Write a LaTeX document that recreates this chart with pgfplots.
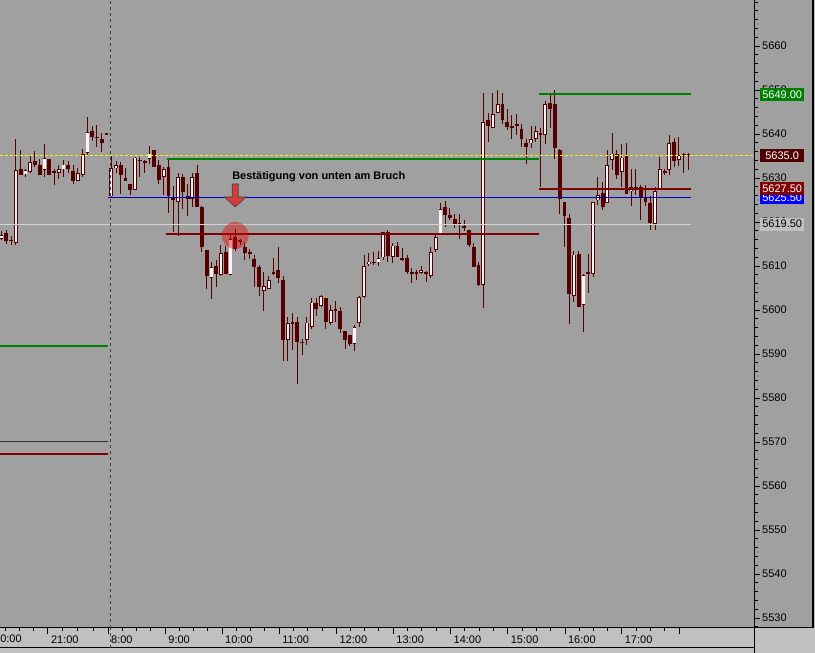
\documentclass[border=0pt]{standalone}
\usepackage{pgfplots}
\pgfplotsset{compat=1.18}
\usepackage{pgfplotstable}
\usepackage{fontspec}
\setmainfont{Liberation Sans}

\definecolor{chartbg}{RGB}{160,160,160}
\definecolor{stripbg}{RGB}{192,192,192}
\definecolor{candle}{RGB}{85,0,0}
\definecolor{candlewhite}{RGB}{255,242,242}
\definecolor{lvlgreen}{RGB}{0,128,0}
\definecolor{lvlred}{RGB}{128,0,0}
\definecolor{lvlblue}{RGB}{0,0,205}
\definecolor{lvlgrey}{RGB}{212,212,212}
\definecolor{lastbox}{RGB}{80,0,0}
\definecolor{arrowred}{RGB}{215,60,60}

% n = 5-min bar (0 = 8:00 bar, negatives = evening before)
\pgfplotstableread{
n O H L C
-23 5616.2 5618.0 5615.9 5617.2
-22 5617.6 5618.3 5615.2 5615.8
-21 5616.1 5617.0 5614.8 5615.8
-20 5615.3 5638.9 5614.8 5631.8
-19 5632.1 5636.4 5630.7 5630.8
-18 5630.8 5632.0 5630.3 5631.8
-17 5631.3 5635.1 5631.3 5633.7
-16 5633.9 5636.2 5632.7 5633.1
-15 5633.1 5634.5 5630.7 5630.8
-14 5632.0 5637.9 5630.3 5634.7
-13 5634.3 5634.3 5630.7 5630.8
-12 5631.8 5632.2 5628.6 5631.2
-11 5631.2 5633.0 5629.9 5632.2
-10 5632.0 5634.1 5630.3 5633.1
-9 5633.1 5633.9 5631.2 5632.0
-8 5631.8 5633.0 5628.6 5629.4
-7 5629.4 5632.2 5629.4 5631.1
-6 5630.8 5636.5 5630.3 5635.6
-5 5635.8 5643.9 5635.2 5640.6
-4 5640.6 5641.7 5638.3 5639.4
-3 5639.4 5642.1 5637.1 5639.1
-2 5638.8 5640.2 5635.8 5637.9
-1 5640.3 5640.3 5640.1 5640.1
0 5625.8 5635.2 5625.5 5632.2
1 5632.3 5633.9 5631.1 5633.1
2 5633.1 5633.7 5626.5 5630.8
3 5630.2 5632.2 5629.4 5629.4
4 5628.6 5628.6 5626.1 5627.3
5 5627.4 5634.7 5627.3 5634.7
6 5634.3 5634.8 5630.3 5633.9
7 5633.9 5634.3 5631.2 5633.7
8 5634.3 5637.3 5633.3 5635.6
9 5636.4 5636.4 5632.6 5632.6
10 5633.1 5634.1 5628.6 5629.7
11 5630.3 5632.6 5626.1 5632.2
12 5632.7 5634.1 5622.0 5626.1
13 5625.6 5628.2 5617.8 5625.3
14 5624.8 5631.1 5616.8 5630.3
15 5630.3 5631.1 5623.1 5626.9
16 5626.1 5628.8 5621.4 5625.3
17 5625.2 5631.2 5623.5 5630.3
18 5631.2 5633.0 5623.6 5623.6
19 5623.6 5623.6 5613.3 5614.4
20 5613.6 5613.6 5604.9 5607.8
21 5607.4 5611.0 5602.4 5609.8
22 5610.2 5611.4 5605.3 5608.2
23 5608.2 5614.8 5607.8 5613.1
24 5613.2 5614.6 5608.2 5608.3
25 5608.0 5617.1 5608.0 5616.1
26 5616.7 5618.6 5613.6 5614.0
27 5615.9 5616.1 5614.8 5615.5
28 5614.4 5615.5 5611.4 5612.9
29 5613.1 5614.0 5611.8 5612.9
30 5611.8 5612.5 5605.3 5609.8
31 5609.8 5610.2 5603.2 5605.3
32 5604.4 5608.7 5599.8 5605.6
33 5604.8 5607.7 5604.8 5606.8
34 5608.6 5611.8 5608.0 5608.5
35 5609.3 5614.3 5606.2 5607.4
36 5606.8 5607.7 5588.3 5593.2
37 5593.2 5598.3 5588.3 5597.2
38 5597.2 5599.4 5590.8 5597.0
39 5597.2 5598.6 5583.2 5592.8
40 5592.7 5593.6 5589.8 5592.6
41 5593.3 5598.5 5592.1 5597.2
42 5596.2 5602.8 5595.8 5601.8
43 5601.8 5602.7 5598.6 5600.4
44 5600.9 5603.6 5600.8 5603.2
45 5602.7 5602.7 5595.8 5597.3
46 5597.3 5601.1 5596.6 5600.2
47 5600.3 5602.1 5597.3 5600.1
48 5599.8 5600.8 5594.8 5595.8
49 5595.2 5595.2 5591.3 5593.3
50 5594.3 5594.3 5591.9 5592.4
51 5592.4 5596.6 5590.8 5596.1
52 5597.0 5603.2 5596.2 5603.0
53 5603.2 5612.5 5602.9 5610.1
54 5610.5 5612.9 5610.0 5611.1
55 5611.1 5613.3 5610.2 5610.8
56 5610.8 5613.4 5610.2 5611.8
57 5612.0 5617.7 5611.4 5617.7
58 5617.7 5618.2 5611.0 5612.3
59 5612.3 5615.3 5610.8 5614.8
60 5614.8 5615.5 5612.3 5612.3
61 5611.8 5614.3 5611.2 5611.7
62 5611.8 5612.7 5608.3 5608.7
63 5608.6 5609.7 5606.2 5608.5
64 5608.6 5609.3 5607.0 5608.5
65 5608.6 5610.2 5608.2 5609.3
66 5608.6 5608.7 5606.2 5608.5
67 5607.8 5614.3 5607.4 5613.2
68 5613.6 5617.7 5613.3 5616.7
69 5617.1 5624.3 5617.0 5623.1
70 5623.6 5624.8 5618.9 5621.8
71 5621.8 5623.1 5620.5 5621.1
72 5620.7 5622.0 5618.8 5619.7
73 5619.8 5621.8 5616.1 5619.6
74 5619.3 5620.5 5618.2 5618.7
75 5618.2 5618.3 5614.4 5614.8
76 5614.3 5615.3 5609.8 5609.8
77 5610.2 5611.0 5605.7 5605.7
78 5605.8 5649.3 5600.4 5642.7
79 5643.2 5644.8 5638.3 5641.9
80 5641.5 5649.3 5641.5 5644.7
81 5644.9 5650.2 5644.9 5646.8
82 5646.8 5649.3 5642.4 5643.3
83 5642.7 5645.6 5640.8 5641.5
84 5641.7 5644.3 5638.9 5641.6
85 5642.2 5644.7 5639.8 5642.1
86 5641.3 5642.3 5637.0 5638.9
87 5638.1 5638.9 5633.3 5637.0
88 5637.9 5641.8 5637.0 5638.8
89 5639.0 5641.8 5638.3 5640.7
90 5640.2 5641.3 5628.0 5640.1
91 5639.9 5647.7 5637.9 5646.8
92 5647.2 5649.3 5641.5 5645.8
93 5646.8 5650.2 5634.5 5637.0
94 5636.4 5636.8 5622.0 5625.4
95 5624.6 5624.6 5614.4 5621.4
96 5621.1 5622.0 5597.0 5603.8
97 5603.3 5613.6 5601.9 5612.7
98 5612.7 5613.6 5600.8 5600.8
99 5601.3 5608.1 5594.9 5608.1
100 5608.6 5612.7 5603.8 5608.4
101 5608.3 5624.6 5607.4 5624.6
102 5624.9 5630.2 5623.9 5626.1
103 5626.7 5629.3 5622.9 5623.3
104 5624.5 5636.4 5624.5 5633.1
105 5634.1 5640.2 5631.8 5635.6
106 5635.6 5636.4 5629.9 5630.8
107 5631.4 5637.7 5628.0 5634.7
108 5635.1 5638.1 5626.4 5626.4
109 5627.1 5632.2 5623.7 5628.0
110 5628.0 5632.2 5626.1 5627.3
111 5628.0 5628.6 5620.7 5625.8
112 5625.6 5628.6 5623.7 5624.5
113 5624.3 5626.1 5618.3 5619.8
114 5619.8 5628.0 5618.3 5627.1
115 5627.4 5634.8 5627.4 5632.2
116 5631.8 5632.2 5630.7 5631.3
117 5632.0 5639.8 5630.8 5638.1
118 5638.1 5639.3 5632.6 5633.9
119 5634.1 5639.3 5632.7 5635.2
120 5635.6 5635.6 5631.2 5635.4
121 5635.6 5635.6 5631.8 5635.4
}\bars

\begin{document}
\begin{tikzpicture}[font=\fontsize{11}{13}\selectfont]
\useasboundingbox (0,0) rectangle (815pt,653pt);
\fill[stripbg] (0,0) rectangle (815pt,653pt);
\fill[chartbg] (754pt,25pt) rectangle (813pt,653pt);

\begin{axis}[
  scale only axis, width=754pt, height=628pt,
  at={(0pt,25pt)}, anchor=south west,
  xmin=-23.33, xmax=134.74, ymin=5527.73, ymax=5670.45,
  clip=false,
  axis background/.style={fill=chartbg},
  axis x line*=bottom, axis y line*=right,
  axis line style={black, line width=1pt},
  tick align=outside, major tick length=6pt, minor tick length=3.5pt,
  every tick/.style={black, line width=0.8pt},
  xtick={-13.3,-0.7,11.3,23.2,35.2,47.2,59.1,71.1,83.1,95.1,107.0,119.0},
  xticklabels={21:00,8:00,9:00,10:00,11:00,12:00,13:00,14:00,15:00,16:00,17:00,{}},
  minor xtick={-22.2,-19.3,-16.3,-10.15,-7.0,-3.85,2.3,5.3,8.3,14.3,17.25,20.2,26.2,29.2,32.2,38.2,41.2,44.2,50.2,53.15,56.1,62.1,65.1,68.1,74.1,77.1,80.1,86.1,89.1,92.1,98.1,101.05,104,110,113,116},
  ytick={5530,5540,...,5660},
  minor ytick={5528,5530,...,5670},
  /pgf/number format/1000 sep={},
  /pgf/number format/assume math mode=true,
  xticklabel style={anchor=north west, inner sep=0pt, xshift=3pt, yshift=-2pt},
  yticklabel style={anchor=west, inner sep=0pt, xshift=2pt},
]
% wicks
\addplot[draw=none, mark=none, error bars/.cd, y dir=both, y explicit, error mark=none,
  error bar style={draw=candle, line width=1pt, solid}]
  table[x=n, y expr={(\thisrow{H}+\thisrow{L})/2}, y error expr={(\thisrow{H}-\thisrow{L})/2}] {\bars};
% bodies (dark outer)
\addplot[draw=none, mark=none, error bars/.cd, y dir=both, y explicit, error mark=none,
  error bar style={draw=candle, line width=3.8pt, solid}]
  table[x=n, y expr={(\thisrow{O}+\thisrow{C})/2}, y error expr={max(abs(\thisrow{O}-\thisrow{C})/2,0.12)}] {\bars};
% bodies (white inner for rising bars)
\addplot[draw=none, mark=none, error bars/.cd, y dir=both, y explicit, error mark=none,
  error bar style={draw=candlewhite, line width=2.2pt, solid}]
  table[x=n, y expr={(\thisrow{O}+\thisrow{C})/2}, y error expr={max((\thisrow{C}-\thisrow{O})/2-0.2,0)}] {\bars};

% levels
\addplot[lvlgrey, line width=1pt] coordinates {(-23.33,5619.5) (121.5,5619.5)};
\addplot[lvlblue, line width=1pt] coordinates {(-0.69,5625.5) (121.5,5625.5)};
\addplot[lvlgreen, line width=2pt] coordinates {(-23.33,5591.8) (-0.69,5591.8)};
\addplot[black!80, line width=0.8pt] coordinates {(-23.33,5570.2) (-0.69,5570.2)};
\addplot[lvlred, line width=2pt] coordinates {(-23.33,5567.3) (-0.69,5567.3)};
\addplot[lvlgreen, line width=2pt] coordinates {(11.6,5634.3) (89.7,5634.3)};
\addplot[lvlred, line width=2pt] coordinates {(11.5,5617.25) (89.7,5617.25)};
\addplot[lvlgreen, line width=2pt] coordinates {(89.7,5649) (121.5,5649)};
\addplot[lvlred, line width=2pt] coordinates {(89.7,5627.5) (121.5,5627.5)};
\addplot[yellow, line width=1pt, dash pattern=on 3pt off 2pt] coordinates {(-23.33,5635) (134.74,5635)};
\addplot[black!75, line width=0.8pt, dash pattern=on 3pt off 3pt] coordinates {(-0.17,5527.73) (-0.17,5670.45)};

% annotation
\node[font=\bfseries\fontsize{11}{13}\selectfont] at (axis cs:43.5,5630.34) {Bestätigung von unten am Bruch};
\coordinate (arr) at (axis cs:25.98,5628.64);
\filldraw[fill=arrowred, draw=black!75, line width=0.6pt]
  ([xshift=-3pt]arr) -- ([xshift=-3pt,yshift=-13pt]arr) -- ([xshift=-11pt,yshift=-13pt]arr)
  -- ([yshift=-23pt]arr) -- ([xshift=11pt,yshift=-13pt]arr) -- ([xshift=3pt,yshift=-13pt]arr)
  -- ([xshift=3pt]arr) -- cycle;
\fill[red!90!black, opacity=0.42] (axis cs:25.98,5616.93) circle[radius=13.5pt];

% price boxes
\node[anchor=west, fill=lvlgreen, text=white, inner sep=1pt, minimum height=13pt, minimum width=44pt] at ([xshift=6pt]axis cs:134.74,5649) {5649.00};
\node[anchor=west, fill=lastbox, text=white, inner sep=1pt, minimum height=13pt, minimum width=44pt] at ([xshift=6pt]axis cs:134.74,5635) {5635.0};
\node[anchor=west, fill=blue, text=white, inner sep=1pt, minimum height=13pt, minimum width=44pt] at ([xshift=6pt]axis cs:134.74,5625.5) {5625.50};
\node[anchor=west, fill=lvlred, text=white, inner sep=1pt, minimum height=13pt, minimum width=44pt] at ([xshift=6pt]axis cs:134.74,5627.5) {5627.50};
\node[anchor=west, fill=stripbg, text=black, inner sep=1pt, minimum height=13pt, minimum width=44pt] at ([xshift=6pt]axis cs:134.74,5619.5) {5619.50};
\end{axis}

% frame lines
\draw[black, line width=1.2pt] (813pt,25pt) -- (813pt,653pt);
\draw[black, line width=1pt] (754pt,25pt) -- (813pt,25pt);
\draw[black, line width=1pt] (754pt,0pt) -- (754pt,25pt);
\draw[black, line width=1pt] (0pt,5pt) -- (754pt,5pt);
\draw[black!75, line width=0.8pt, dash pattern=on 3pt off 3pt] (110.5pt,5pt) -- (110.5pt,25pt);
\node[anchor=north west, inner sep=0pt] at (-6pt,18pt) {20:00};
\end{tikzpicture}
\end{document}
